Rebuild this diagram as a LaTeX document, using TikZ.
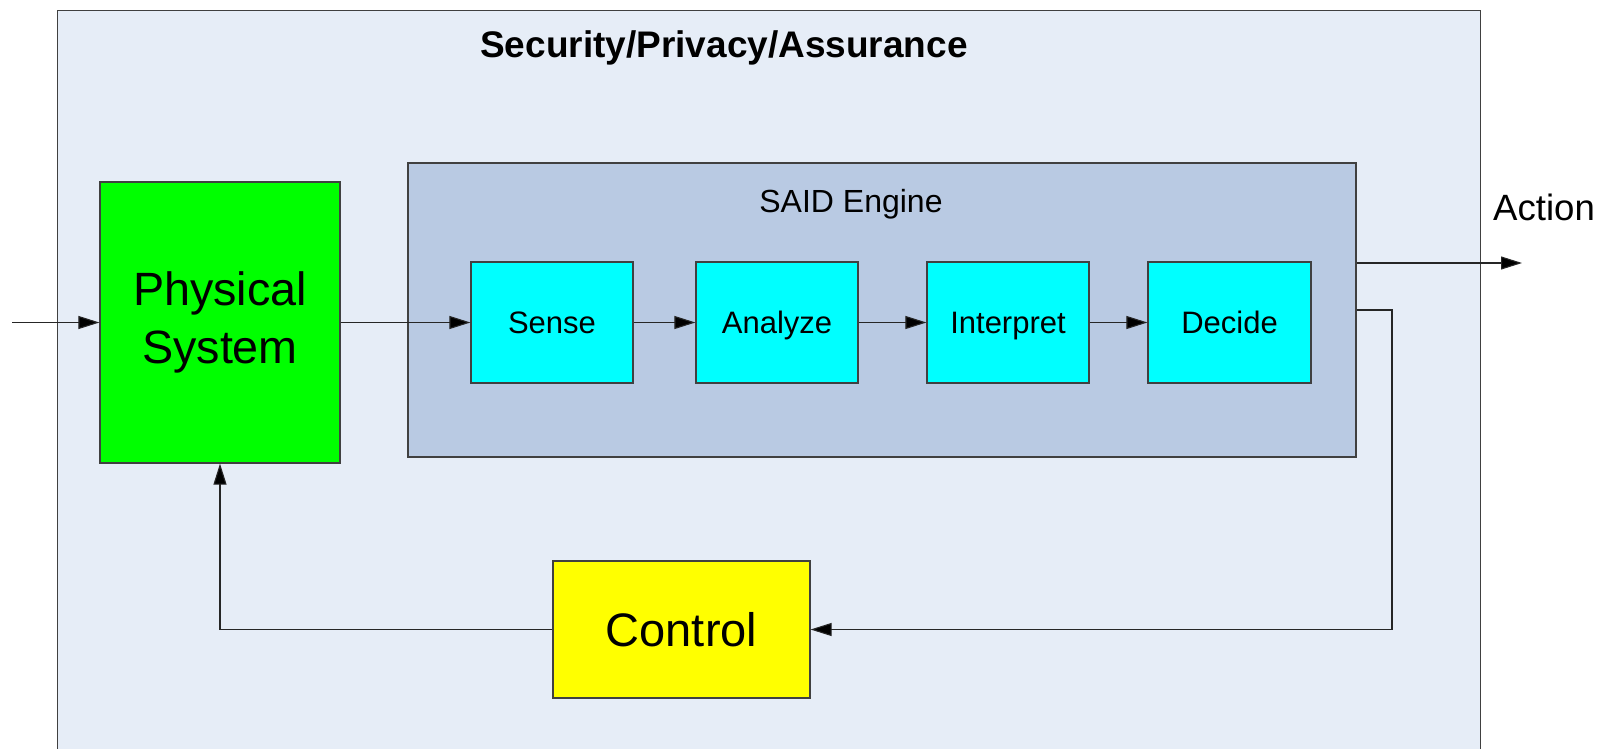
\documentclass[tikz,border=0pt]{standalone}
\usepackage{fontspec}
\setmainfont{Liberation Sans}
\usetikzlibrary{arrows.meta}
\definecolor{outerfill}{HTML}{E6EDF7}
\definecolor{saidfill}{HTML}{B9CAE3}
\definecolor{linegray}{HTML}{404040}
\definecolor{physfill}{HTML}{00FF00}
\definecolor{stepfill}{HTML}{00FFFF}
\definecolor{ctrlfill}{HTML}{FFFF00}
\begin{document}
\begin{tikzpicture}[x=1pt,y=-1pt,
  box/.style={draw=linegray,line width=1.2pt,inner sep=0pt,align=center},
  stepbox/.style={box,fill=stepfill,minimum width=162pt,minimum height=121pt,text height=22pt,text depth=0pt,font=\fontsize{31}{38}\selectfont},
  conn/.style={draw=black!85,line width=1.1pt,-{Triangle[length=21pt,width=13pt,fill=black]}}]
\useasboundingbox (0,0) rectangle (1615,749);
\clip (0,0) rectangle (1615,749);
\fill[white] (0,0) rectangle (1615,749);
% outer region
\node[box,fill=outerfill,minimum width=1423pt,minimum height=780pt,anchor=north west] (outer) at (57,10) {};
\node[font=\bfseries\fontsize{37}{44}\selectfont] (title) at (724,48) {Security/Privacy/Assurance};
% SAID engine
\node[box,fill=saidfill,minimum width=948pt,minimum height=294pt] (said) at (882,310) {};
\node[font=\fontsize{32}{38}\selectfont] (saidlbl) at (851,204) {SAID Engine};
% boxes
\node[box,fill=physfill,minimum width=240pt,minimum height=281pt,font=\fontsize{46.7}{58}\selectfont] (phys) at (220,322.5) {\raisebox{-4pt}{Physical}\\\raisebox{-4pt}{System}};
\node[stepbox] (sense) at (552,322.5) {Sense};
\node[stepbox] (analyze) at (777,322.5) {Analyze};
\node[stepbox] (interpret) at (1008,322.5) {Interpret};
\node[stepbox,minimum width=163pt] (decide) at (1229.5,322.5) {Decide};
\node[box,fill=ctrlfill,minimum width=257pt,minimum height=137pt,font=\fontsize{47}{56}\selectfont] (control) at (681.5,629.5) {Control};
\node[font=\fontsize{36.6}{44}\selectfont] (action) at (1544,207) {Action};
% connectors
\coordinate (in) at (12,322.5);
\coordinate (actend) at (1522,263);
\coordinate (fbx) at (1392,310);
\draw[conn] (in) -- (phys.west);
\draw[conn] (phys.east) -- (sense.west);
\draw[conn] (sense.east) -- (analyze.west);
\draw[conn] (analyze.east) -- (interpret.west);
\draw[conn] (interpret.east) -- (decide.west);
\draw[conn] (said.east |- actend) -- (actend);
\draw[conn] (said.east |- fbx) -- (fbx) |- (control.east);
\draw[conn] (control.west) -| (phys.south);
\end{tikzpicture}
\end{document}
